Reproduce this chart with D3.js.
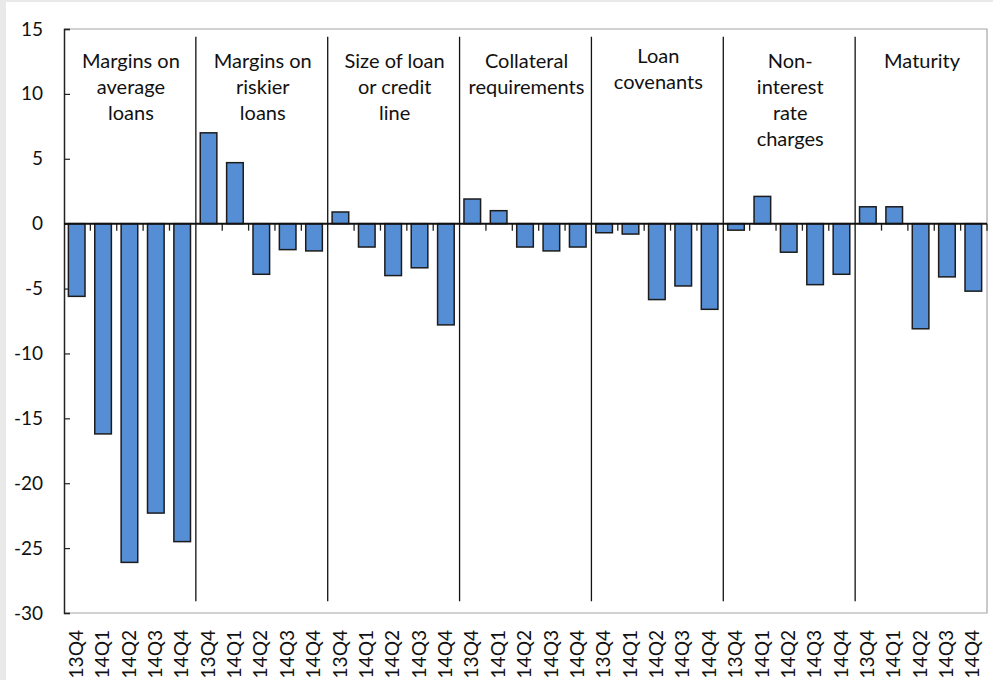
<!DOCTYPE html>
<html><head><meta charset="utf-8">
<script src="https://cdn.jsdelivr.net/npm/d3@7"></script>
<style>
html,body{margin:0;padding:0;background:#e9e9e9;}
svg{display:block;}
text{font-family:Lato,"Open Sans",sans-serif;fill:#111;}
</style></head>
<body>
<script>
const groups = [
  ["Margins on","average","loans"],
  ["Margins on","riskier","loans"],
  ["Size of loan","or credit","line"],
  ["Collateral","requirements"],
  ["Loan","covenants"],
  ["Non-","interest","rate","charges"],
  ["Maturity"]
];
const quarters = ["13Q4","14Q1","14Q2","14Q3","14Q4"];
const values = [
  [-5.6,-16.2,-26.1,-22.3,-24.5],
  [7.0,4.7,-3.9,-2.0,-2.1],
  [0.9,-1.8,-4.0,-3.4,-7.8],
  [1.9,1.0,-1.8,-2.1,-1.8],
  [-0.7,-0.8,-5.85,-4.8,-6.6],
  [-0.5,2.1,-2.2,-4.7,-3.9],
  [1.3,1.3,-8.1,-4.1,-5.2]
];
const yTicks = [15,10,5,0,-5,-10,-15,-20,-25,-30];

const W = 993, H = 680;
const L = 64, R = 987, T = 29, B = 613;
const svg = d3.select("body").append("svg").attr("width",W).attr("height",H);
svg.append("rect").attr("x",6).attr("y",2).attr("width",W-6).attr("height",H-2).attr("fill","#fff");

const data = [];
values.forEach((g,gi)=>g.forEach((v,qi)=>data.push({key:gi+"-"+qi,g:gi,q:quarters[qi],v})));

const x = d3.scaleBand().domain(data.map(d=>d.key)).range([L,R]).paddingInner(0.37).paddingOuter(0.185).align(0.45);
const y = d3.scaleLinear().domain([-30,15]).range([B,T]);
const step = x.step();

// plot border (grey)
svg.append("path").attr("d",`M${L},${T}H${R}V${B}H${L}`).attr("fill","none").attr("stroke","#a6a6a6").attr("stroke-width",1.2);

// y axis
const yAxis = d3.axisLeft(y).tickValues(yTicks).tickSize(-6).tickPadding(21).tickFormat(d=>String(d));
const ya = svg.append("g").attr("transform",`translate(${L},0)`).call(yAxis);
ya.select(".domain").attr("stroke","#222").attr("stroke-width",1.5);
ya.selectAll(".tick line").attr("stroke","#222").attr("stroke-width",1.2);
ya.selectAll(".tick text").attr("font-size",19).attr("font-family","Lato,sans-serif").attr("fill","#111");

// group separators
const sepIdx = d3.range(1,groups.length);
const sepTop = 14.4, sepBot = -29.1;
svg.selectAll("line.sep").data(sepIdx).enter().append("line")
  .attr("x1",i=>L+i*5*step).attr("x2",i=>L+i*5*step)
  .attr("y1",y(sepTop)).attr("y2",y(sepBot))
  .attr("stroke","#111").attr("stroke-width",1.3);

// bars
svg.selectAll("rect.bar").data(data).enter().append("rect")
  .attr("x",d=>x(d.key)).attr("width",x.bandwidth())
  .attr("y",d=>y(Math.max(0,d.v))).attr("height",d=>Math.abs(y(d.v)-y(0)))
  .attr("fill","#558ed5").attr("stroke","#1c1c1c").attr("stroke-width",1.5);

// zero axis with ticks at category boundaries
const bounds = d3.range(1,data.length+1).filter(i=>i%5!==0 || i===data.length);
svg.selectAll("line.xt").data(bounds).enter().append("line")
  .attr("x1",i=>L+i*step).attr("x2",i=>L+i*step)
  .attr("y1",y(0)).attr("y2",y(0)+7)
  .attr("stroke","#222").attr("stroke-width",1.3);
svg.append("line").attr("x1",L).attr("x2",R).attr("y1",y(0)).attr("y2",y(0))
  .attr("stroke","#111").attr("stroke-width",2);

// x labels (rotated, stretched along their length to fill the space below the plot)
const xl = svg.selectAll("text.xl").data(data).enter().append("text")
  .attr("text-anchor","end").attr("dy","0.36em").attr("font-size",18.5)
  .text(d=>d.q);
xl.each(function(d,i){
  const len = this.getComputedTextLength();
  const s = 48.5/len;
  d3.select(this).attr("transform",`translate(${L+(i+0.5)*step-1},630) rotate(-90) scale(${s},1)`);
});

// group labels
const shift = [0,0,0,0,-5,0,0];
groups.forEach((lines,gi)=>{
  const cx = L+(gi*5+2.5)*step + 1;
  const t = svg.append("text").attr("text-anchor","middle").attr("font-size",20);
  lines.forEach((s,li)=>{
    t.append("tspan").attr("x",cx).attr("y",68+shift[gi]+li*26).text(s);
  });
});
</script>
</body></html>
